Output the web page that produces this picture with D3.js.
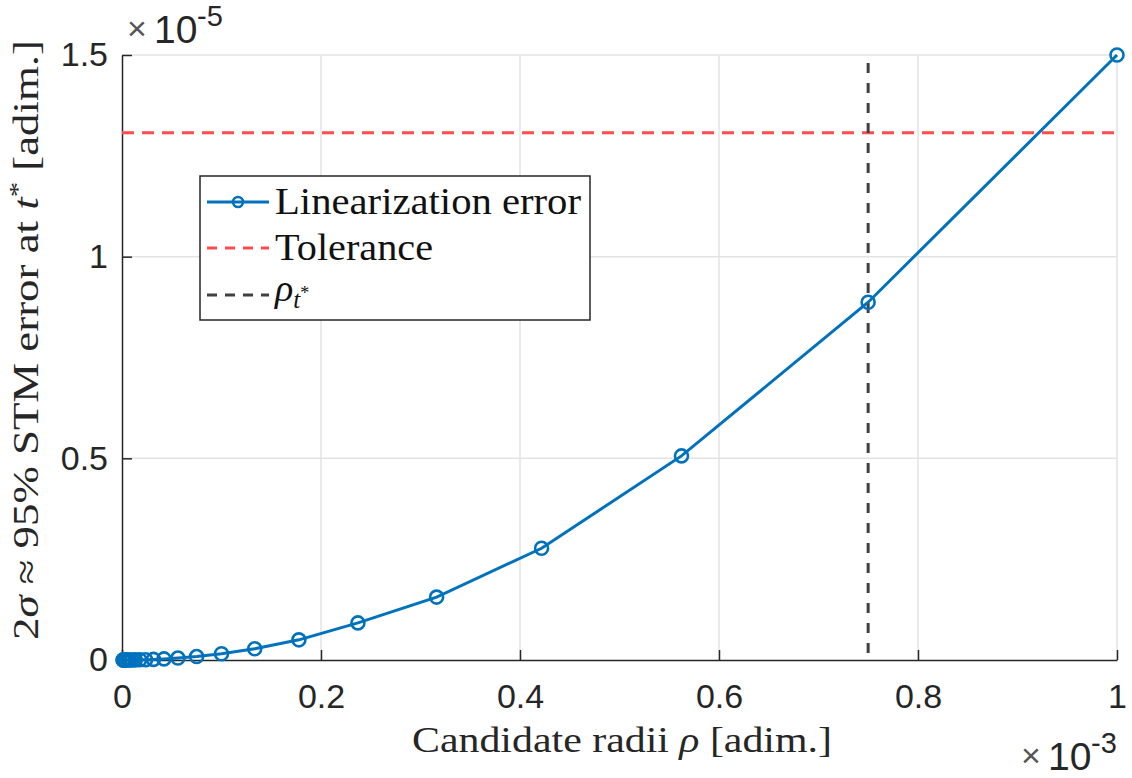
<!DOCTYPE html>
<html><head><meta charset="utf-8">
<script src="https://cdn.jsdelivr.net/npm/d3@7"></script>
<style>body{margin:0;background:#fff}svg{display:block}
.serif{font-family:"Liberation Serif"}
.sans{font-family:"Liberation Sans"}
</style>
</head><body><svg id="c" width="1132" height="778"></svg>
<script>
// candidate radii (x 1e-3)
const radii = [1.0000, 0.7499, 0.5623, 0.4217, 0.3162, 0.2371, 0.1778, 0.1334, 0.1000, 0.0750, 0.0562, 0.0422, 0.0316, 0.0237, 0.0178, 0.0133, 0.0100, 0.0075, 0.0056, 0.0042, 0.0032, 0.0024, 0.0018, 0.0013, 0.0010];
// linearization error (x 1e-5)
const errors = [1.500, 0.887, 0.506, 0.277, 0.156, 0.092, 0.050, 0.028, 0.0155, 0.0085, 0.0048, 0.0027, 0.0015, 0.0008, 0.0005, 0.0003, 0.00015, 0.0001, 0.00005, 0.00003, 0.00002, 0.00001, 0.000005, 0.000003, 0.000002];
const tolerance = 1.307;   // x 1e-5
const rhoStar = 0.7499;    // x 1e-3
const xTicks = [0, 0.2, 0.4, 0.6, 0.8, 1];
const yTicks = [0, 0.5, 1, 1.5];
const legendLabels = ["Linearization error", "Tolerance", "rho"];

const svg = d3.select("#c");
const x = d3.scaleLinear([0, 1], [122, 1117]);
const y = d3.scaleLinear([0, 1.5], [660, 55]);
const axisCol = "#262626", blue = "#0072BD", red = "#FF4D4D", gray = "#404040";

// grid
svg.append("g").selectAll("line").data(xTicks.filter(d => d > 0)).join("line")
  .attr("x1", d => x(d)).attr("x2", d => x(d)).attr("y1", y(0)).attr("y2", y(1.5))
  .attr("stroke", "#e3e3e3").attr("stroke-width", 1.5);
svg.append("g").selectAll("line").data(yTicks.filter(d => d > 0)).join("line")
  .attr("y1", d => y(d)).attr("y2", d => y(d)).attr("x1", x(0)).attr("x2", x(1))
  .attr("stroke", "#e3e3e3").attr("stroke-width", 1.5);

// axes
const fmt = d3.format("~g");
const gx = svg.append("g").attr("transform", `translate(0,${y(0)})`)
  .call(d3.axisBottom(x).tickValues(xTicks).tickFormat(fmt).tickSizeInner(-10).tickSizeOuter(0).tickPadding(24));
const gy = svg.append("g").attr("transform", `translate(${x(0)},0)`)
  .call(d3.axisLeft(y).tickValues(yTicks).tickFormat(fmt).tickSizeInner(-10).tickSizeOuter(0).tickPadding(14));
[gx, gy].forEach(g => {
  g.attr("font-family", null).attr("font-size", null);
  g.selectAll("path,line").attr("stroke", axisCol).attr("stroke-width", 1.5);
  g.selectAll("text").attr("fill", axisCol).attr("class", "sans").style("font-size", "34px");
});

// tolerance line
svg.append("line").attr("x1", x(0)).attr("x2", x(1)).attr("y1", y(tolerance)).attr("y2", y(tolerance))
  .attr("stroke", red).attr("stroke-width", 3).attr("stroke-dasharray", "12,8");
// rho* line
svg.append("line").attr("x1", x(rhoStar)).attr("x2", x(rhoStar)).attr("y1", y(1.5)).attr("y2", y(0))
  .attr("stroke", gray).attr("stroke-width", 3).attr("stroke-dasharray", "10,10").attr("stroke-dashoffset", -8);

// data line
const pts = radii.map((r, i) => [r, errors[i]]);
svg.append("path").datum(pts).attr("fill", "none").attr("stroke", blue).attr("stroke-width", 3)
  .attr("d", d3.line().x(d => x(d[0])).y(d => y(d[1])));
svg.append("g").selectAll("circle").data(pts).join("circle")
  .attr("cx", d => x(d[0])).attr("cy", d => y(d[1])).attr("r", 6.5)
  .attr("fill", "none").attr("stroke", blue).attr("stroke-width", 2.6);

// exponent labels
function expLabel(tx, ty, exp) {
  const g = svg.append("g").attr("fill", axisCol).attr("class", "sans");
  g.append("text").attr("x", tx).attr("y", ty - 3).style("font-size", "34px").attr("fill", "#555").text("×");
  g.append("text").attr("x", tx + 27).attr("y", ty).style("font-size", "39px").text("10");
  g.append("text").attr("x", tx + 70).attr("y", ty - 17).style("font-size", "29px").text(exp);
}
expLabel(127, 43, "-5");
expLabel(1021, 770, "-3");

// x label
const xl = svg.append("text").attr("x", 622).attr("y", 752).attr("text-anchor", "middle").attr("class", "serif")
  .attr("fill", axisCol).style("font-size", "36px")
  .attr("textLength", 420).attr("lengthAdjust", "spacingAndGlyphs");
xl.append("tspan").text("Candidate radii ");
xl.append("tspan").style("font-style", "italic").text("ρ");
xl.append("tspan").text(" [adim.]");

// y label
const yl = svg.append("text").attr("transform", "translate(38,340) rotate(-90)").attr("text-anchor", "middle")
  .attr("class", "serif").attr("fill", axisCol).style("font-size", "35px")
  .attr("textLength", 600).attr("lengthAdjust", "spacingAndGlyphs");
yl.append("tspan").text("2");
yl.append("tspan").style("font-style", "italic").text("σ");
yl.append("tspan").text(" ≈ 95% STM error at ");
yl.append("tspan").style("font-style", "italic").text("t");
yl.append("tspan").attr("dy", -13).style("font-size", "24px").text("*");
yl.append("tspan").attr("dy", 13).text(" [adim.]");

// legend
const lg = svg.append("g");
lg.append("rect").attr("x", 200).attr("y", 176).attr("width", 390).attr("height", 144)
  .attr("fill", "#fff").attr("stroke", axisCol).attr("stroke-width", 1.5);
const rows = [202, 248, 295];
lg.append("line").attr("x1", 207).attr("x2", 269).attr("y1", rows[0]).attr("y2", rows[0]).attr("stroke", blue).attr("stroke-width", 3);
lg.append("circle").attr("cx", 238).attr("cy", rows[0]).attr("r", 5).attr("fill", "none").attr("stroke", blue).attr("stroke-width", 2.6);
lg.append("line").attr("x1", 207).attr("x2", 269).attr("y1", rows[1]).attr("y2", rows[1]).attr("stroke", red).attr("stroke-width", 3).attr("stroke-dasharray", "10,8");
lg.append("line").attr("x1", 207).attr("x2", 269).attr("y1", rows[2]).attr("y2", rows[2]).attr("stroke", gray).attr("stroke-width", 3).attr("stroke-dasharray", "10,8");
lg.append("text").attr("x", 275).attr("y", rows[0] + 12).attr("class", "serif").style("font-size", "38px")
  .attr("fill", "#111").attr("textLength", 306).attr("lengthAdjust", "spacingAndGlyphs").text(legendLabels[0]);
lg.append("text").attr("x", 275).attr("y", rows[1] + 12).attr("class", "serif").style("font-size", "38px")
  .attr("fill", "#111").attr("textLength", 158).attr("lengthAdjust", "spacingAndGlyphs").text(legendLabels[1]);
const rt = lg.append("text").attr("x", 275).attr("y", rows[2] + 6).attr("class", "serif").style("font-size", "38px").attr("fill", "#111");
rt.append("tspan").style("font-style", "italic").text("ρ");
rt.append("tspan").attr("dy", 7).style("font-size", "25px").style("font-style", "italic").text("t");
rt.append("tspan").attr("dy", -9).style("font-size", "18px").text("*");
</script></body></html>
